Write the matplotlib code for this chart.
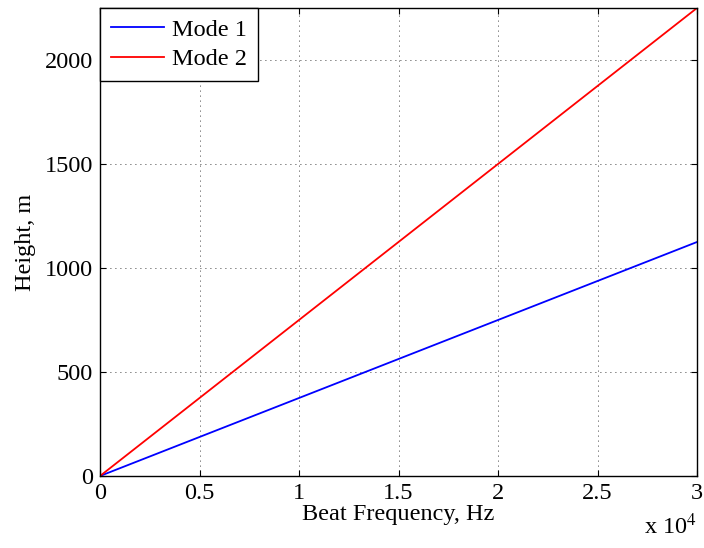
import matplotlib
matplotlib.use("Agg")
import matplotlib.pyplot as plt

# beat frequency (Hz) and the corresponding height (m) for each mode
freq = [0, 5000, 10000, 15000, 20000, 25000, 30000]
height_mode1 = [0, 187.5, 375, 562.5, 750, 937.5, 1125]
height_mode2 = [0, 375, 750, 1125, 1500, 1875, 2250]

x_ticks = [0, 5000, 10000, 15000, 20000, 25000, 30000]
x_tick_labels = ["0", "0.5", "1", "1.5", "2", "2.5", "3"]
y_ticks = [0, 500, 1000, 1500, 2000]

plt.rcParams["font.family"] = "Liberation Serif"
plt.rcParams["font.size"] = 17.5
plt.rcParams["mathtext.fontset"] = "stix"

fig = plt.figure(figsize=(7.04, 5.48), dpi=100)
ax = fig.add_axes([100 / 704, (548 - 476) / 548, 597 / 704, 468 / 548])

ax.plot(freq, height_mode1, color="#0000ff", lw=1.3, label="Mode 1")
ax.plot(freq, height_mode2, color="#ff0000", lw=1.3, label="Mode 2")

ax.set_xlim(0, 30000)
ax.set_ylim(0, 2250)
ax.set_xticks(x_ticks)
ax.set_xticklabels(x_tick_labels)
ax.set_yticks(y_ticks)
ax.grid(True, linestyle=(0, (1, 5)), color="black", lw=0.6)
ax.tick_params(direction="in", length=4, width=0.8, top=True, right=True, pad=5)
for s in ax.spines.values():
    s.set_linewidth(1.0)

ax.set_xlabel("Beat Frequency, Hz", labelpad=0)
ax.set_ylabel("Height, m", labelpad=6)
ax.text(1.0, -0.08, "x 10$^4$", transform=ax.transAxes, ha="right", va="top",
        fontsize=17.5)

leg = ax.legend(loc="upper left", borderaxespad=0, fancybox=False,
                framealpha=1, edgecolor="black", handlelength=2.2,
                borderpad=0.45, labelspacing=0.3, handletextpad=0.3)
leg.get_frame().set_linewidth(1.0)

fig.savefig("out.png", dpi=100)
